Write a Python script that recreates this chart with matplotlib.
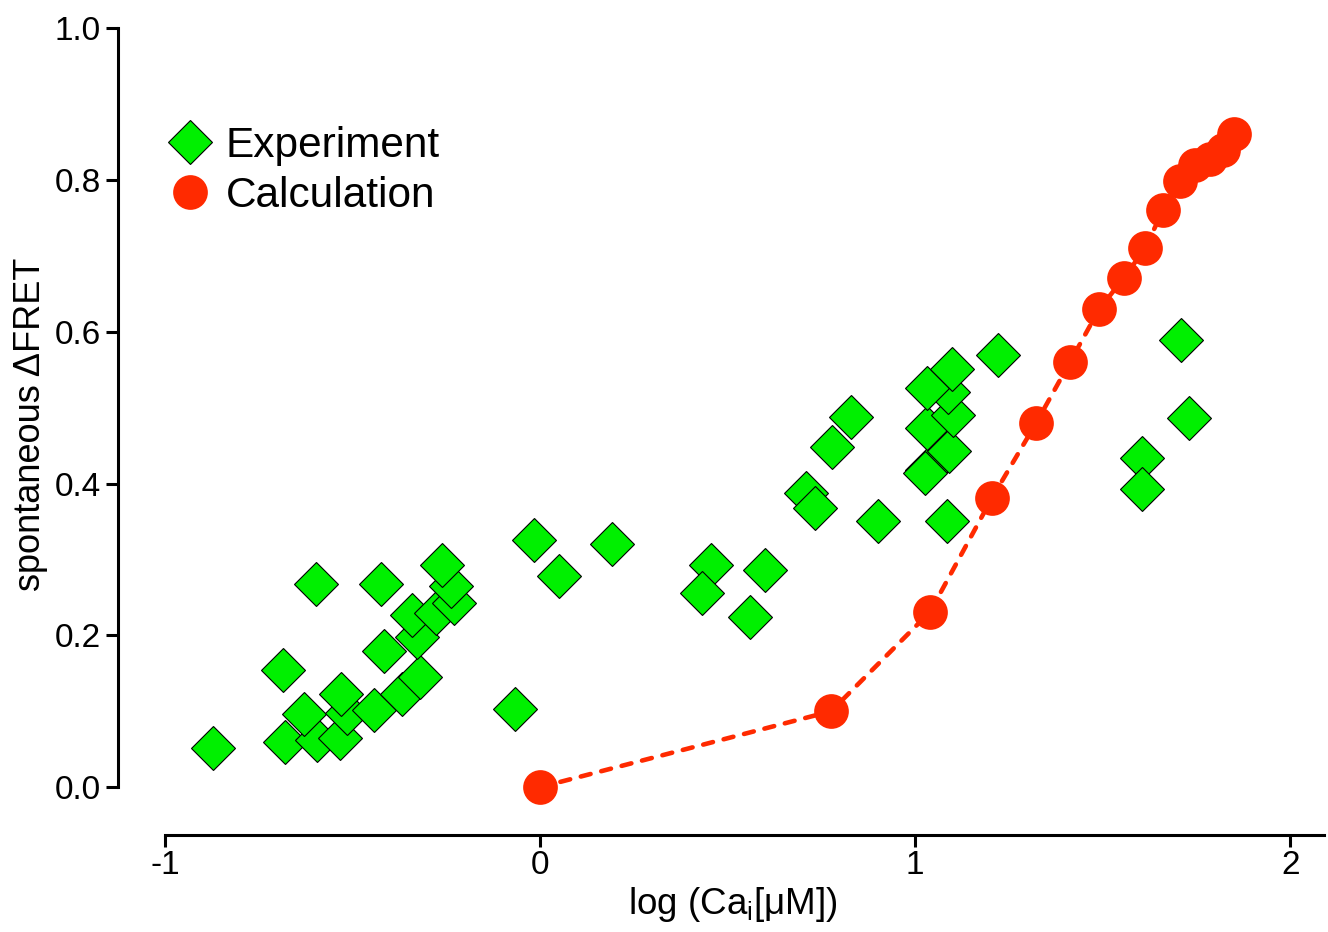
import matplotlib
matplotlib.use("Agg")
from matplotlib import pyplot as plt
import numpy as np

plt.rcParams['font.family'] = ['Liberation Sans', 'DejaVu Sans']
plt.rcParams['mathtext.fontset'] = 'custom'
plt.rcParams['mathtext.rm'] = 'Liberation Sans'

# Experiment (green diamonds)
exp_x = [-0.872, -0.680, -0.595, -0.533, -0.629, -0.515, -0.443, -0.531, -0.368,
         -0.320, -0.685, -0.416, -0.328, -0.341, -0.277, -0.229, -0.237, -0.261,
         -0.597, -0.424, -0.067, -0.016, 0.051, 0.192, 0.456, 0.432, 0.600, 0.560,
         0.709, 0.733, 0.779, 0.829, 0.901, 1.085, 1.032, 1.027, 1.091, 1.032,
         1.101, 1.088, 1.032, 1.099, 1.221, 1.709, 1.731, 1.605, 1.605]
exp_y = [0.051, 0.059, 0.062, 0.065, 0.096, 0.098, 0.101, 0.123, 0.123,
         0.145, 0.154, 0.179, 0.198, 0.227, 0.229, 0.242, 0.265, 0.293,
         0.268, 0.268, 0.103, 0.325, 0.278, 0.320, 0.293, 0.256, 0.286, 0.224,
         0.387, 0.368, 0.448, 0.488, 0.351, 0.351, 0.418, 0.414, 0.443, 0.473,
         0.490, 0.520, 0.526, 0.551, 0.569, 0.589, 0.486, 0.434, 0.393]

# Calculation (red circles + dashed line)
calc_x = [0.0, 0.776, 1.040, 1.205, 1.323, 1.413, 1.491, 1.557, 1.613, 1.661,
          1.707, 1.747, 1.787, 1.821, 1.851]
calc_y = [0.0, 0.100, 0.231, 0.381, 0.480, 0.560, 0.630, 0.671, 0.710, 0.760,
          0.798, 0.819, 0.828, 0.839, 0.860]

green = '#00f000'
red = '#ff2a00'

fig = plt.figure(figsize=(13.28, 9.32), dpi=100)
ax = fig.add_axes([118 / 1328, 1 - 835 / 932, (1324 - 118) / 1328, (835 - 28) / 932])

ax.plot(calc_x, calc_y, color=red, lw=3.3, linestyle=(0, (2.2, 2.4)),
        dash_capstyle='round', zorder=2, clip_on=False)
ax.plot(exp_x, exp_y, linestyle='none', marker='D', ms=22.5, mfc=green,
        mec='black', mew=0.8, label='Experiment', zorder=3, clip_on=False)
ax.plot(calc_x, calc_y, linestyle='none', marker='o', ms=25, mfc=red,
        mec='none', label='Calculation', zorder=4, clip_on=False)

ax.set_xlim(-1.125, 2.09)
ax.set_ylim(-0.063, 1.0)
ax.set_xticks([-1, 0, 1, 2])
ax.set_xticklabels(['-1', '0', '1', '2'])
ax.set_yticks([0, 0.2, 0.4, 0.6, 0.8, 1.0])
ax.set_yticklabels(['0.0', '0.2', '0.4', '0.6', '0.8', '1.0'])

for s in ['top', 'right']:
    ax.spines[s].set_visible(False)
for s in ['left', 'bottom']:
    ax.spines[s].set_linewidth(2.2)
ax.spines['left'].set_bounds(0, 1.0)
ax.spines['bottom'].set_bounds(-1, 2.09)
ax.tick_params(width=2.2, length=8.5, labelsize=24, direction='out')
ax.tick_params(axis='y', pad=4)
ax.tick_params(axis='x', pad=2)

ax.set_xlabel(r'log (Ca$_\mathregular{i}$[μM])', fontsize=26.5)
ax.set_ylabel('spontaneous ΔFRET', fontsize=26)
ax.xaxis.set_label_coords(0.51, -0.062)
ax.yaxis.set_label_coords(-0.058, 0.509)
ax.xaxis.label.set_va('top')

ax.legend(loc='upper left', bbox_to_anchor=(170 / 1328, 1 - 126 / 932),
          bbox_transform=fig.transFigure, frameon=False, fontsize=30.5,
          numpoints=1, handlelength=0.95, handletextpad=0.37, borderpad=0,
          borderaxespad=0, labelspacing=0.24)

fig.savefig('out.png', dpi=100)
